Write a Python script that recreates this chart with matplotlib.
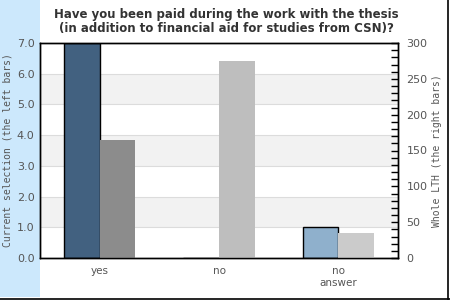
import matplotlib
matplotlib.use("Agg")
import matplotlib.pyplot as plt
from matplotlib.patches import Rectangle
from matplotlib.lines import Line2D
import numpy as np

categories = ["yes", "no", "no\nanswer"]
current_values = [7.0, 0.0, 1.0]
whole_values = [165, 275, 35]
current_colors = ["#426180", "#426180", "#8fb0cc"]
whole_colors = ["#8c8c8c", "#bebebe", "#cbcbcb"]
left_ticks = [0.0, 1.0, 2.0, 3.0, 4.0, 5.0, 6.0, 7.0]
right_ticks = [0, 50, 100, 150, 200, 250, 300]
title = "Have you been paid during the work with the thesis\n(in addition to financial aid for studies from CSN)?"

fig = plt.figure(figsize=(4.5, 3.0), dpi=100)
fig.patch.set_facecolor("white")
# left light-blue strip
fig.patches.append(Rectangle((0, 0.01), 40/450, 0.99, transform=fig.transFigure,
                             facecolor="#cce8fc", edgecolor="none", zorder=-5))
fig.lines.append(Line2D([0, 1], [0.005, 0.005], transform=fig.transFigure, color="black", lw=1.2))
fig.lines.append(Line2D([0.996, 0.996], [0.005, 1], transform=fig.transFigure, color="black", lw=1.2))

ax1 = fig.add_axes([40/450, 42/300, 358/450, 215/300])
ax1.set_facecolor("white")
x = np.arange(len(categories))
w = 0.3
ax1.set_xlim(-0.5, len(categories) - 0.5)
ax1.set_ylim(0, 7)
for i in range(7):
    if i in (1, 3, 5):
        ax1.axhspan(i, i + 1, color="#f2f2f2", zorder=0, lw=0)
    ax1.axhline(i, color="#dcdcdc", lw=0.8, zorder=0.5)

ax1.bar(x - w/2, current_values, width=w, color=current_colors, edgecolor="black",
        linewidth=1.0, zorder=2)
ax1.set_yticks(left_ticks)
ax1.set_yticklabels([f"{v:.1f}" for v in left_ticks])
ax1.tick_params(axis="y", length=0, labelsize=8, labelcolor="#555555", pad=4)
ax1.set_xticks(x)
ax1.set_xticklabels(categories)
ax1.tick_params(axis="x", length=0, labelsize=7.5, labelcolor="#555555", pad=6)
ax1.set_ylabel("Current selection (the left bars)", family="DejaVu Sans Mono",
               fontsize=7, color="#555555", labelpad=3)
for s in ax1.spines.values():
    s.set_color("black")
    s.set_linewidth(1.0)

ax2 = ax1.twinx()
ax2.bar(x + w/2, whole_values, width=w, color=whole_colors, edgecolor="none", zorder=2)
ax2.set_ylim(0, 300)
ax2.set_yticks(right_ticks)
ax2.set_yticks(np.arange(0, 301, 10), minor=True)
ax2.tick_params(axis="y", which="both", direction="in", length=5, width=1,
                labelsize=8, labelcolor="#555555", pad=6)
ax2.set_ylabel("Whole LTH (the right bars)", family="DejaVu Sans Mono",
               fontsize=7, color="#555555", labelpad=3)
for s in ax2.spines.values():
    s.set_color("black")
    s.set_linewidth(1.0)

fig.text(226/450, 0.972, title, ha="center", va="top", fontsize=8.5,
         fontweight="bold", color="#333333", linespacing=1.1)

fig.savefig("out.png", dpi=100)
